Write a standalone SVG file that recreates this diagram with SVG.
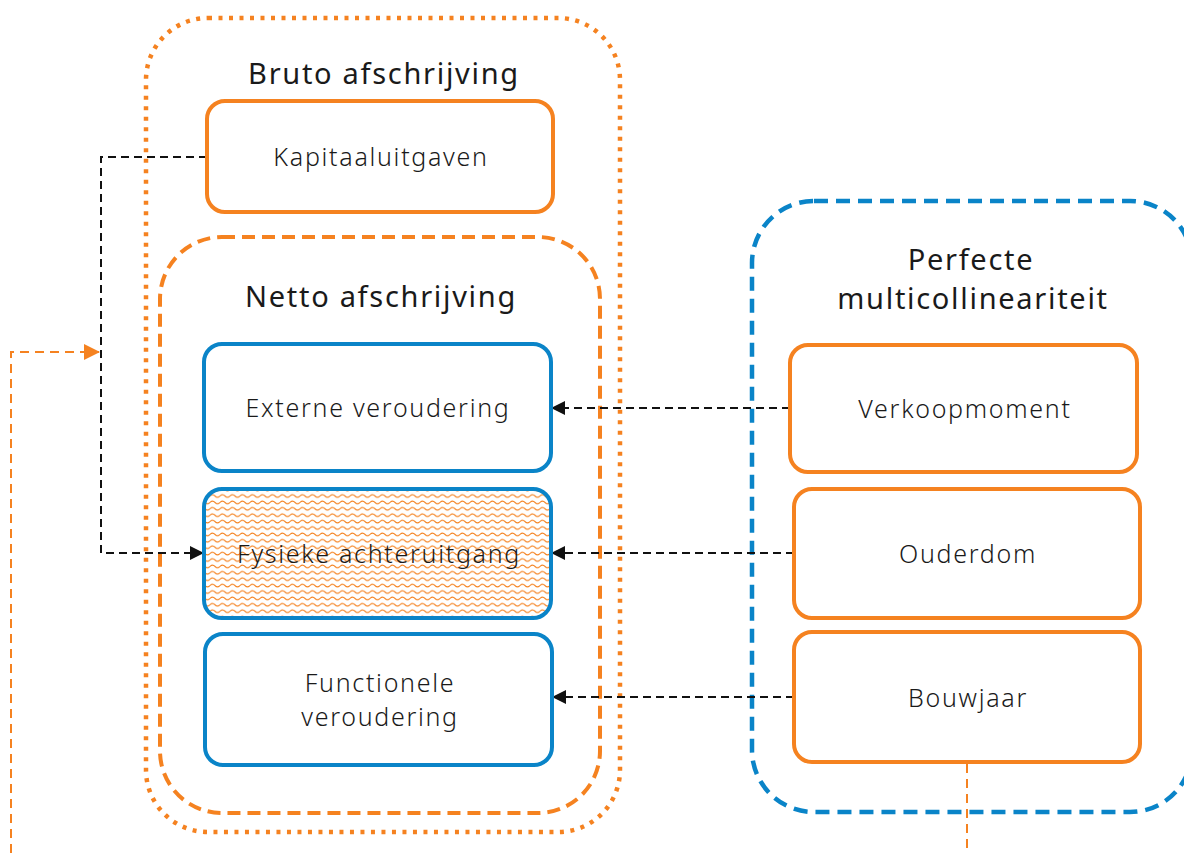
<svg xmlns="http://www.w3.org/2000/svg" width="1184" height="853" viewBox="0 0 1184 853">
<style>
.t{font-family:"Noto Sans","Open Sans","Liberation Sans",sans-serif;fill:#1a1a1a;text-anchor:middle}
.title{font-size:29px;letter-spacing:1.7px}
.lbl{font-size:25px;font-weight:300;letter-spacing:1.7px}
.or{fill:#fff;stroke:#F58220;stroke-width:4}
.bl{fill:#fff;stroke:#0A84C8;stroke-width:4}
.con{fill:none;stroke:#111;stroke-width:2;stroke-dasharray:8 5}
.ocon{fill:none;stroke:#F58220;stroke-width:2;stroke-dasharray:9 6}
</style>
<defs>
<marker id="ab" markerWidth="14" markerHeight="14" refX="13" refY="7" orient="auto" markerUnits="userSpaceOnUse">
<path d="M0,0 L14,7 L0,14 z" fill="#111"/>
</marker>
<marker id="ao" markerWidth="16" markerHeight="16" refX="15" refY="8" orient="auto" markerUnits="userSpaceOnUse">
<path d="M0,0 L16,8 L0,16 z" fill="#F58220"/>
</marker>
<pattern id="wave" width="10" height="6.4" patternUnits="userSpaceOnUse">
<path d="M0,3.2 Q2.5,0.6 5,3.2 T10,3.2" fill="none" stroke="#F58220" stroke-width="1.1"/>
</pattern>
</defs>

<g id="group-bruto">
<rect x="146" y="18" width="474" height="814" rx="62" fill="none" stroke="#F58220" stroke-width="4.5" stroke-dasharray="4 6.5"/>
<text class="t title" x="384" y="84">Bruto afschrijving</text>
</g>
<g id="group-netto">
<rect x="160" y="237" width="440" height="576" rx="62" fill="none" stroke="#F58220" stroke-width="4" stroke-dasharray="13 7"/>
<text class="t title" x="381" y="307">Netto afschrijving</text>
</g>
<g id="group-perfecte">
<rect x="752" y="201" width="440" height="611" rx="62" fill="none" stroke="#0A84C8" stroke-width="4.5" stroke-dasharray="14 8"/>
<text class="t title" x="971" y="270">Perfecte</text>
<text class="t title" x="973" y="309">multicollineariteit</text>
</g>

<g id="connectors">
<path class="con" d="M207,157 H101 V553 H203" marker-end="url(#ab)"/>
<path class="con" d="M790,408 H552" marker-end="url(#ab)"/>
<path class="con" d="M794,553 H552" marker-end="url(#ab)"/>
<path class="con" d="M794,697 H553" marker-end="url(#ab)"/>
<path class="ocon" d="M11,853 V352 H99" marker-end="url(#ao)"/>
<path class="ocon" d="M967,764 V853"/>
</g>

<g id="node-kapitaaluitgaven">
<rect class="or" x="207" y="101" width="346" height="111" rx="18"/>
<text class="t lbl" x="381" y="166">Kapitaaluitgaven</text>
</g>
<g id="node-externe">
<rect class="bl" x="204" y="344" width="347" height="127" rx="18"/>
<text class="t lbl" x="378" y="417">Externe veroudering</text>
</g>
<g id="node-fysieke">
<rect x="204" y="489" width="347" height="129" rx="18" fill="#fff"/>
<rect x="204" y="489" width="347" height="129" rx="18" fill="url(#wave)" stroke="#0A84C8" stroke-width="4"/>
<text class="t lbl" x="379" y="563">Fysieke achteruitgang</text>
</g>
<g id="node-functionele">
<rect class="bl" x="205" y="634" width="347" height="131" rx="18"/>
<text class="t lbl" x="380" y="692">Functionele</text>
<text class="t lbl" x="380" y="726">veroudering</text>
</g>
<g id="node-verkoopmoment">
<rect class="or" x="790" y="345" width="347" height="127" rx="18"/>
<text class="t lbl" x="965" y="418">Verkoopmoment</text>
</g>
<g id="node-ouderdom">
<rect class="or" x="794" y="489" width="346" height="129" rx="18"/>
<text class="t lbl" x="968" y="563">Ouderdom</text>
</g>
<g id="node-bouwjaar">
<rect class="or" x="794" y="632" width="346" height="130" rx="18"/>
<text class="t lbl" x="968" y="707">Bouwjaar</text>
</g>
</svg>
